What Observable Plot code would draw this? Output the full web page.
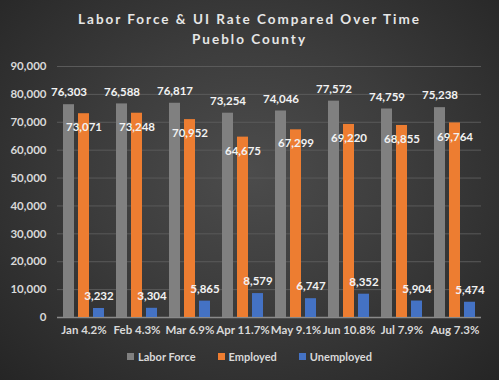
<!DOCTYPE html>
<html>
<head>
<meta charset="utf-8">
<script src="https://cdn.jsdelivr.net/npm/d3@7"></script>
<script src="https://cdn.jsdelivr.net/npm/@observablehq/plot@0.6"></script>
<style>
  html, body { margin: 0; padding: 0; }
  #wrap {
    position: relative; width: 499px; height: 380px; overflow: hidden;
    background: radial-gradient(ellipse at 50% 45%, #4c4c4c 0%, #3c3c3c 45%, #252525 100%);
    font-family: Lato, "Open Sans", sans-serif;
  }
  #title {
    position: absolute; top: 9px; left: 0; width: 499px; text-align: center;
    color: #e6e6e6; font-weight: bold; font-size: 13.5px; letter-spacing: 2px; line-height: 20px;
  }
  #chart { position: absolute; top: 52px; left: 0; }
  #legend {
    position: absolute; top: 350px; left: 0; width: 499px; display: flex; justify-content: center;
    gap: 22px; color: #d9d9d9; font-size: 11px; font-weight: bold;
  }
  #legend span.item { display: flex; align-items: center; }
  #legend span.sw { display: inline-block; width: 7px; height: 7px; margin-right: 4px; }
</style>
</head>
<body>
<div id="wrap">
  <div id="title">Labor Force &amp; UI Rate Compared Over Time<br>Pueblo County</div>
  <div id="chart"></div>
  <div id="legend"></div>
</div>
<script>
const months = ["Jan", "Feb", "Mar", "Apr", "May", "Jun", "Jul", "Aug"];
const uiRates = ["4.2%", "4.3%", "6.9%", "11.7%", "9.1%", "10.8%", "7.9%", "7.3%"];
const laborForce = [76303, 76588, 76817, 73254, 74046, 77572, 74759, 75238];
const employed = [73071, 73248, 70952, 64675, 67299, 69220, 68855, 69764];
const unemployed = [3232, 3304, 5865, 8579, 6747, 8352, 5904, 5474];
const seriesNames = ["Labor Force", "Employed", "Unemployed"];
const seriesColors = ["#808080", "#ed7d31", "#4472c4"];
const yTicks = [0, 10000, 20000, 30000, 40000, 50000, 60000, 70000, 80000, 90000];

const labels = months.map((m, i) => m + " " + uiRates[i]);
const seriesValues = [laborForce, employed, unemployed];
const data = labels.flatMap((lab, i) =>
  seriesNames.map((s, j) => ({ month: lab, series: s, value: seriesValues[j][i] }))
);
const fmt = d3.format(",");

const chart = Plot.plot({
  width: 499,
  height: 290,
  marginTop: 14,
  marginBottom: 25,
  marginLeft: 54,
  marginRight: 15,
  style: { background: "transparent", color: "#d9d9d9", fontFamily: "Lato, 'Open Sans', sans-serif", fontSize: "11.5px", fontWeight: "bold" },
  fx: { domain: labels, paddingInner: 0, paddingOuter: 0, label: null, axis: "bottom", tickSize: 0, tickPadding: 8 },
  x: { domain: seriesNames, paddingInner: 0.28, paddingOuter: 0.32, axis: null },
  y: { domain: [0, 90000], ticks: yTicks, tickFormat: fmt, tickSize: 0, tickPadding: 11, label: null },
  color: { domain: seriesNames, range: seriesColors },
  marks: [
    Plot.ruleY(yTicks.filter(d => d > 0), { stroke: "#5a5a5a", strokeWidth: 1 }),
    Plot.ruleY([0], { stroke: "#8a8a8a", strokeWidth: 1.5 }),
    Plot.barY(data, { fx: "month", x: "series", y: "value", fill: "series" }),
    Plot.text(data.filter(d => d.series !== "Employed"), {
      fx: "month", x: "series", y: "value", text: d => fmt(d.value),
      dy: -12, fill: "#f2f2f2", fontSize: 11.5, fontWeight: "bold"
    }),
    Plot.text(data.filter(d => d.series === "Employed"), {
      fx: "month", x: "series", y: "value", text: d => fmt(d.value),
      dy: 14, fill: "#f2f2f2", fontSize: 11.5, fontWeight: "bold"
    })
  ]
});
document.getElementById("chart").appendChild(chart);

const legend = document.getElementById("legend");
seriesNames.forEach((s, i) => {
  const item = document.createElement("span");
  item.className = "item";
  const sw = document.createElement("span");
  sw.className = "sw";
  sw.style.background = seriesColors[i];
  item.appendChild(sw);
  item.appendChild(document.createTextNode(s));
  legend.appendChild(item);
});
</script>
</body>
</html>
